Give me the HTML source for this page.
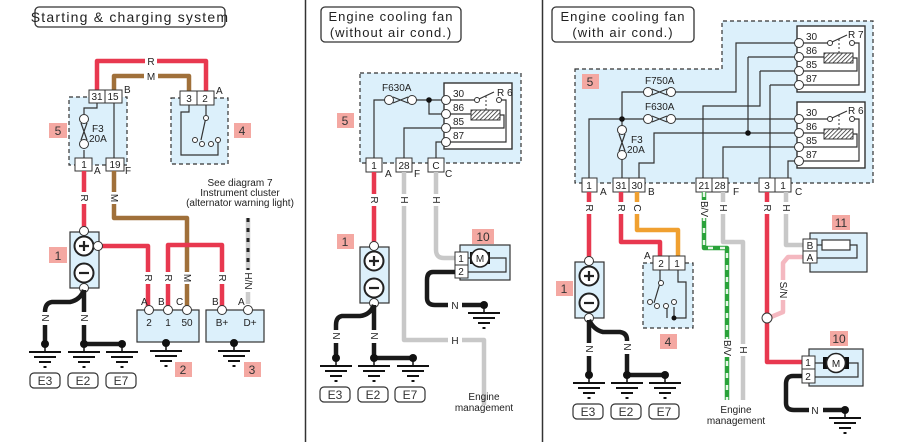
<!DOCTYPE html>
<html><head><meta charset="utf-8"><style>
html,body{margin:0;padding:0;background:#fff;}
svg{display:block;font-family:"Liberation Sans",sans-serif;}
.t{font-size:10px;fill:#222;}
.w{fill:none;stroke-linejoin:round;stroke-linecap:butt;}
.thin{fill:none;stroke:#333;stroke-width:1.2;}
.box{fill:#dcf0fb;stroke:#333;stroke-width:1.2;}
.dash{fill:#dcf0fb;stroke:#333;stroke-width:1.2;stroke-dasharray:4 3;}
.con{fill:#fff;stroke:#333;stroke-width:1;}
.pk{fill:#f4a8a2;}
.pl{font-size:12px;fill:#333;text-anchor:middle;}
.ct{font-size:10px;fill:#222;text-anchor:middle;}
</style></head><body>
<svg width="907" height="442" viewBox="0 0 907 442" xmlns="http://www.w3.org/2000/svg">
<defs>
<g id="gnd"><circle cx="0" cy="0" r="4" fill="#111"/><line x1="0" y1="0" x2="0" y2="8" stroke="#111" stroke-width="1.5"/><line x1="-16" y1="8" x2="16" y2="8" stroke="#111" stroke-width="2"/><line x1="-11" y1="13" x2="11" y2="13" stroke="#111" stroke-width="2"/><line x1="-6" y1="18" x2="6" y2="18" stroke="#111" stroke-width="2"/><line x1="-1.5" y1="23" x2="1.5" y2="23" stroke="#111" stroke-width="2"/></g>
<pattern id="hatch" width="3" height="3" patternUnits="userSpaceOnUse" patternTransform="rotate(45)"><rect width="3" height="3" fill="#fff"/><line x1="0" y1="0" x2="0" y2="3" stroke="#333" stroke-width="1.6"/></pattern>
<g id="relay">
<rect x="0" y="0" width="68" height="66" fill="#fff" stroke="#333" stroke-width="1.4"/>
<path class="thin" d="M2 17 H32 M35 16 L50 9 M55 17 H62 V59 H2 M2 31 H27 M56 32 H60 V45 H2"/>
<line x1="42" y1="13" x2="42" y2="27" stroke="#333" stroke-width="1" stroke-dasharray="2 2"/>
<rect x="27" y="27" width="29" height="10" fill="url(#hatch)" stroke="#333" stroke-width="1"/>
<circle cx="33" cy="17" r="2.5" fill="#fff" stroke="#333"/><circle cx="55" cy="17" r="2.5" fill="#fff" stroke="#333"/>
<circle cx="2" cy="17" r="4.5" fill="#fff" stroke="#333"/><circle cx="2" cy="31" r="4.5" fill="#fff" stroke="#333"/><circle cx="2" cy="45" r="4.5" fill="#fff" stroke="#333"/><circle cx="2" cy="59" r="4.5" fill="#fff" stroke="#333"/>
</g>
<g id="batt">
<rect x="-14" y="0" width="29" height="56" class="box"/>
<circle cx="0" cy="14" r="9.5" fill="#fff" stroke="#222" stroke-width="2"/><path d="M-5 14 H5 M0 9 V19" stroke="#222" stroke-width="2.2"/>
<circle cx="0" cy="41" r="9.5" fill="#fff" stroke="#222" stroke-width="2"/><path d="M-5 41 H5" stroke="#222" stroke-width="2.2"/>
<circle cx="0" cy="-1" r="4.5" fill="#fff" stroke="#333"/><circle cx="0" cy="56" r="4.5" fill="#fff" stroke="#333"/>
</g>
<g id="ebox">
<rect x="0" y="0" width="30" height="15" rx="4" fill="#fff" stroke="#333" stroke-width="1.2"/>
</g>
<g id="fuseV"><circle cx="0" cy="0" r="4.5" fill="#fff" stroke="#333"/><circle cx="0" cy="25" r="4.5" fill="#fff" stroke="#333"/><path class="thin" d="M-3 4 L3 21 M3 4 L-3 21"/></g>
<g id="fuseH"><circle cx="0" cy="0" r="4.5" fill="#fff" stroke="#333"/><circle cx="23" cy="0" r="4.5" fill="#fff" stroke="#333"/><path class="thin" d="M4 -3 L19 3 M4 3 L19 -3"/></g>
</defs>

<!-- dividers -->
<line x1="305.5" y1="0" x2="305.5" y2="442" stroke="#333" stroke-width="1.5"/>
<line x1="542.5" y1="0" x2="542.5" y2="442" stroke="#333" stroke-width="1.5"/>

<!-- ============ PANEL 1 ============ -->
<rect x="35" y="7" width="190" height="20" rx="4" fill="#fff" stroke="#333" stroke-width="1.3"/>
<text x="130" y="22" font-size="14" text-anchor="middle" letter-spacing="1.2" fill="#222">Starting &amp; charging system</text>

<path class="w" d="M97 90 V61 H206 V91" stroke="#e8384f" stroke-width="4.5"/>
<path class="w" d="M114 90 V76 H189 V91" stroke="#a0703a" stroke-width="4.5"/>
<rect x="145" y="55" width="12" height="12" fill="#fff"/><text x="151" y="65" class="ct">R</text>
<rect x="144" y="70" width="14" height="12" fill="#fff"/><text x="151" y="80" class="ct">M</text>

<rect x="69" y="97" width="58" height="68" class="dash"/>
<path class="thin" d="M97 103 V108 H84 V114 M84 150 V158 M114 103 V158"/>
<use href="#fuseV" x="84" y="119"/>
<text x="92" y="132" class="t">F3</text><text x="89" y="142" class="t">20A</text>
<rect x="89" y="90" width="16" height="13" class="con"/><text x="97" y="100" class="ct">31</text>
<rect x="105" y="90" width="17" height="13" class="con"/><text x="113" y="100" class="ct">15</text>
<rect x="75" y="158" width="17" height="13" class="con"/><text x="84" y="168" class="ct">1</text>
<rect x="106" y="158" width="18" height="13" class="con"/><text x="115" y="168" class="ct">19</text>
<text x="124" y="93" class="t">B</text><text x="94" y="174" class="t">A</text><text x="125" y="174" class="t">F</text>
<rect x="49" y="123" width="18" height="15" class="pk"/><text x="58" y="135" class="pl">5</text>

<rect x="171" y="98" width="57" height="66" class="dash"/>
<path class="thin" d="M189 105 V112 H181 V155 H218 V142 M206 105 V117 L201 140"/>
<circle cx="206" cy="118" r="2.5" fill="#fff" stroke="#333"/><circle cx="195" cy="140" r="2.5" fill="#fff" stroke="#333"/><circle cx="202" cy="144" r="2.5" fill="#fff" stroke="#333"/><circle cx="211" cy="144" r="2.5" fill="#fff" stroke="#333"/><circle cx="218" cy="140" r="2.5" fill="#fff" stroke="#333"/>
<rect x="180" y="91" width="17" height="14" class="con"/><text x="189" y="102" class="ct">3</text>
<rect x="197" y="91" width="17" height="14" class="con"/><text x="205" y="102" class="ct">2</text>
<text x="216" y="94" class="t">A</text>
<rect x="234" y="123" width="17" height="15" class="pk"/><text x="242" y="135" class="pl">4</text>

<text x="240" y="186" class="ct" font-size="10">See diagram 7</text>
<text x="240" y="196" class="ct">Instrument cluster</text>
<text x="240" y="206" class="ct">(alternator warning light)</text>

<path class="w" d="M84 171 V228" stroke="#e8384f" stroke-width="4.5"/>
<rect x="78" y="192" width="12" height="12" fill="#fff"/><text transform="translate(81,198) rotate(90)" class="ct" font-size="9">R</text>
<path class="w" d="M114 171 V218 H187 V306" stroke="#a0703a" stroke-width="4.5"/>
<rect x="108" y="192" width="12" height="12" fill="#fff"/><text transform="translate(111,198) rotate(90)" class="ct" font-size="9">M</text>
<path class="w" d="M102 246 H148 V306" stroke="#e8384f" stroke-width="4.5"/>
<path class="w" d="M168 306 V245 H222 V306" stroke="#e8384f" stroke-width="4.5"/>
<path d="M248 218 V304" stroke="#ccc" stroke-width="4.5"/><path d="M248 218 V270" stroke="#222" stroke-width="3" stroke-dasharray="4 6"/>
<g fill="#fff"><rect x="142" y="272" width="12" height="12"/><rect x="162" y="272" width="12" height="12"/><rect x="181" y="272" width="12" height="12"/><rect x="216" y="272" width="12" height="12"/><rect x="242" y="270" width="12" height="22"/></g>
<text transform="translate(145,278) rotate(90)" class="ct" font-size="9">R</text>
<text transform="translate(165,278) rotate(90)" class="ct" font-size="9">R</text>
<text transform="translate(184,278) rotate(90)" class="ct" font-size="9">M</text>
<text transform="translate(219,278) rotate(90)" class="ct" font-size="9">R</text>
<text transform="translate(245,281) rotate(90)" class="ct" font-size="9">H/N</text>

<use href="#batt" x="84" y="232"/>
<circle cx="98" cy="246" r="4.5" fill="#fff" stroke="#333"/>
<rect x="49" y="247" width="18" height="16" class="pk"/><text x="58" y="260" class="pl">1</text>

<rect x="137" y="310" width="62" height="32" class="box"/>
<circle cx="149" cy="310" r="4.5" fill="#fff" stroke="#333"/><circle cx="168" cy="310" r="4.5" fill="#fff" stroke="#333"/><circle cx="187" cy="310" r="4.5" fill="#fff" stroke="#333"/>
<text x="141" y="305" class="t">A</text><text x="158" y="305" class="t">B</text><text x="176" y="305" class="t">C</text>
<text x="149" y="326" class="ct">2</text><text x="168" y="326" class="ct">1</text><text x="187" y="326" class="ct">50</text>
<rect x="206" y="310" width="58" height="32" class="box"/>
<circle cx="222" cy="310" r="4.5" fill="#fff" stroke="#333"/><circle cx="248" cy="310" r="4.5" fill="#fff" stroke="#333"/>
<text x="212" y="305" class="t">B</text><text x="238" y="305" class="t">A</text>
<text x="222" y="326" class="ct">B+</text><text x="250" y="326" class="ct">D+</text>
<use href="#gnd" x="166" y="343"/><use href="#gnd" x="234" y="343"/>
<rect x="175" y="362" width="17" height="15" class="pk"/><text x="183" y="374" class="pl">2</text>
<rect x="244" y="362" width="17" height="15" class="pk"/><text x="252" y="374" class="pl">3</text>

<path class="w" d="M84 290 Q80 300 70 302 H52 Q45 303 45 312 V344 M84 290 V344 H122" stroke="#1a1a1a" stroke-width="4.5"/>
<rect x="40" y="312" width="10" height="13" fill="#fff"/><rect x="79" y="312" width="10" height="13" fill="#fff"/>
<text transform="translate(42,318) rotate(90)" class="ct" font-size="9">N</text><text transform="translate(81,318) rotate(90)" class="ct" font-size="9">N</text>
<use href="#gnd" x="45" y="344"/><use href="#gnd" x="84" y="344"/><use href="#gnd" x="122" y="344"/>
<use href="#ebox" x="30" y="373"/><use href="#ebox" x="68" y="373"/><use href="#ebox" x="106" y="373"/>
<text x="45" y="385" class="pl">E3</text><text x="83" y="385" class="pl">E2</text><text x="121" y="385" class="pl">E7</text>

<!-- ============ PANEL 2 ============ -->
<rect x="321" y="7" width="140" height="35" rx="4" fill="#fff" stroke="#333" stroke-width="1.3"/>
<text x="391" y="21" font-size="13" text-anchor="middle" letter-spacing="1" fill="#222">Engine cooling fan</text>
<text x="391" y="37" font-size="13" text-anchor="middle" letter-spacing="1" fill="#222">(without air cond.)</text>

<rect x="360" y="73" width="161" height="90" class="dash"/>
<use href="#relay" x="444" y="83"/>
<text x="453" y="97" class="t">30</text><text x="453" y="111" class="t">86</text><text x="453" y="125" class="t">85</text><text x="453" y="139" class="t">87</text>
<text x="497" y="96" class="t">R 6</text>
<path class="thin" d="M374 158 V100 H385 M412 100 H442 M429 100 V114 H442 M404 158 V128 H442 M436 158 V142 H442"/>
<use href="#fuseH" x="389" y="100"/><circle cx="429" cy="100" r="2.8" fill="#111"/>
<text x="382" y="91" class="t">F630A</text>
<rect x="366" y="158" width="16" height="14" class="con"/><text x="374" y="169" class="ct">1</text>
<rect x="396" y="158" width="16" height="14" class="con"/><text x="404" y="169" class="ct">28</text>
<rect x="428" y="158" width="16" height="14" class="con"/><text x="436" y="169" class="ct">C</text>
<text x="385" y="177" class="t">A</text><text x="414" y="177" class="t">F</text><text x="445" y="177" class="t">C</text>
<rect x="337" y="113" width="17" height="15" class="pk"/><text x="345" y="125" class="pl">5</text>

<path class="w" d="M374 172 V244" stroke="#e8384f" stroke-width="4.5"/>
<rect x="368" y="194" width="12" height="12" fill="#fff"/><text transform="translate(371,200) rotate(90)" class="ct" font-size="9">R</text>
<path class="w" d="M404 172 V340 H484 V405" stroke="#c8c8c8" stroke-width="4.5"/>
<path class="w" d="M436 172 V250 Q436 258 444 258 H455" stroke="#c8c8c8" stroke-width="4.5"/>
<rect x="398" y="194" width="12" height="12" fill="#fff"/><text transform="translate(401,200) rotate(90)" class="ct" font-size="9">H</text>
<rect x="430" y="194" width="12" height="12" fill="#fff"/><text transform="translate(433,200) rotate(90)" class="ct" font-size="9">H</text>
<rect x="448" y="334" width="14" height="12" fill="#fff"/><text x="455" y="344" class="ct">H</text>
<text x="484" y="400" class="ct">Engine</text><text x="484" y="411" class="ct">management</text>

<use href="#batt" x="374" y="247"/>
<rect x="337" y="234" width="17" height="15" class="pk"/><text x="345" y="246" class="pl">1</text>

<rect x="460" y="245" width="50" height="35" class="box"/>
<path class="thin" d="M468 258 H506 V272 H468"/>
<rect x="470" y="252" width="6" height="12" fill="#111"/><rect x="484" y="252" width="6" height="12" fill="#111"/>
<circle cx="480" cy="258" r="9" fill="#fff" stroke="#222" stroke-width="1.6"/><text x="480" y="262" class="ct" font-size="9">M</text>
<rect x="455" y="252" width="13" height="13" class="con"/><text x="461" y="262" class="ct">1</text>
<rect x="455" y="265" width="13" height="13" class="con"/><text x="461" y="275" class="ct">2</text>
<rect x="472" y="229" width="22" height="15" class="pk"/><text x="483" y="241" class="pl">10</text>
<path class="w" d="M455 272 H433 Q427 272 427 280 V298 Q427 305 435 305 H484" stroke="#1a1a1a" stroke-width="4.5"/>
<rect x="448" y="299" width="14" height="12" fill="#fff"/><text x="455" y="309" class="ct">N</text>
<use href="#gnd" x="484" y="305"/>

<path class="w" d="M374 305 Q370 315 360 316 H342 Q336 317 336 325 V358 M374 305 V358 H413" stroke="#1a1a1a" stroke-width="4.5"/>
<rect x="331" y="330" width="10" height="13" fill="#fff"/><rect x="369" y="330" width="10" height="13" fill="#fff"/>
<text transform="translate(333,336) rotate(90)" class="ct" font-size="9">N</text><text transform="translate(371,336) rotate(90)" class="ct" font-size="9">N</text>
<use href="#gnd" x="336" y="358"/><use href="#gnd" x="374" y="358"/><use href="#gnd" x="413" y="358"/>
<use href="#ebox" x="320" y="387"/><use href="#ebox" x="358" y="387"/><use href="#ebox" x="395" y="387"/>
<text x="335" y="399" class="pl">E3</text><text x="373" y="399" class="pl">E2</text><text x="410" y="399" class="pl">E7</text>

<!-- ============ PANEL 3 ============ -->
<rect x="552" y="7" width="142" height="35" rx="4" fill="#fff" stroke="#333" stroke-width="1.3"/>
<text x="623" y="21" font-size="13" text-anchor="middle" letter-spacing="1" fill="#222">Engine cooling fan</text>
<text x="623" y="37" font-size="13" text-anchor="middle" letter-spacing="1" fill="#222">(with air cond.)</text>

<path d="M575 69 H722 V21 H873 V183 H575 Z" class="dash"/>
<rect x="582" y="74" width="17" height="15" class="pk"/><text x="590" y="86" class="pl">5</text>
<use href="#relay" x="797" y="26"/><use href="#relay" x="797" y="102"/>
<g class="t"><text x="806" y="40">30</text><text x="806" y="54">86</text><text x="806" y="68">85</text><text x="806" y="82">87</text>
<text x="806" y="116">30</text><text x="806" y="130">86</text><text x="806" y="144">85</text><text x="806" y="158">87</text>
<text x="848" y="38">R 7</text><text x="848" y="114">R 6</text></g>
<path class="thin" d="M589 178 V119 H645 M675 119 H795 M622 119 V92 H645 M675 92 H736 V43 H795 M622 119 V126 M622 155 V178 M748 57 H795 M748 57 V133 M639 178 V163 H654 V133 H795 M760 71 H795 M760 71 V106 H703 V178 M770 85 H795 M770 85 V178 M723 178 V147 H795 M788 178 V161 H795"/>
<use href="#fuseH" x="648" y="92"/><use href="#fuseH" x="648" y="119"/>
<circle cx="622" cy="119" r="2.8" fill="#111"/><circle cx="748" cy="133" r="2.8" fill="#111"/>
<use href="#fuseV" x="622" y="130"/>
<text x="645" y="84" class="t">F750A</text><text x="645" y="110" class="t">F630A</text>
<text x="631" y="143" class="t">F3</text><text x="627" y="153" class="t">20A</text>
<rect x="582" y="178" width="15" height="14" class="con"/><text x="589" y="189" class="ct">1</text>
<rect x="613" y="178" width="16" height="14" class="con"/><text x="621" y="189" class="ct">31</text>
<rect x="629" y="178" width="16" height="14" class="con"/><text x="637" y="189" class="ct">30</text>
<rect x="696" y="178" width="16" height="14" class="con"/><text x="704" y="189" class="ct">21</text>
<rect x="712" y="178" width="16" height="14" class="con"/><text x="720" y="189" class="ct">28</text>
<rect x="759" y="178" width="16" height="14" class="con"/><text x="767" y="189" class="ct">3</text>
<rect x="775" y="178" width="16" height="14" class="con"/><text x="783" y="189" class="ct">1</text>
<text x="600" y="195" class="t">A</text><text x="648" y="195" class="t">B</text><text x="733" y="195" class="t">F</text><text x="795" y="195" class="t">C</text>

<path class="w" d="M589 192 V259" stroke="#e8384f" stroke-width="4.5"/>
<path class="w" d="M621 192 V242 H660 V256" stroke="#e8384f" stroke-width="4.5"/>
<path class="w" d="M637 192 V230 H678 V256" stroke="#f0a030" stroke-width="4.5"/>
<path class="w" d="M704 192 V248 H727 V400" stroke="#2aa33a" stroke-width="4.5"/>
<path class="w" d="M704 192 V248 H727 V400" stroke="#e8f7e8" stroke-width="2.5" stroke-dasharray="5 7"/>
<path class="w" d="M723 192 V242 H743 V400" stroke="#c8c8c8" stroke-width="4.5"/>
<path class="w" d="M767 192 V362 H802" stroke="#e8384f" stroke-width="4.5"/>
<path class="w" d="M786 192 V245 H803" stroke="#c8c8c8" stroke-width="4.5"/>
<path class="w" d="M771 317 L783 312 V263 L788 257 H803" stroke="#f4b8c0" stroke-width="4.5"/>
<circle cx="767" cy="318" r="5" fill="#fff" stroke="#333"/>
<g fill="#fff"><rect x="583" y="202" width="12" height="12"/><rect x="615" y="202" width="12" height="12"/><rect x="631" y="202" width="12" height="12"/><rect x="698" y="200" width="12" height="18"/><rect x="717" y="202" width="12" height="12"/><rect x="761" y="202" width="12" height="12"/><rect x="780" y="202" width="12" height="12"/><rect x="721" y="339" width="12" height="18"/><rect x="737" y="344" width="12" height="12"/><rect x="777" y="280" width="12" height="20"/></g>
<text transform="translate(586,208) rotate(90)" class="ct" font-size="9">R</text>
<text transform="translate(618,208) rotate(90)" class="ct" font-size="9">R</text>
<text transform="translate(634,208) rotate(90)" class="ct" font-size="9">C</text>
<text transform="translate(701,209) rotate(90)" class="ct" font-size="9">B/V</text>
<text transform="translate(720,208) rotate(90)" class="ct" font-size="9">H</text>
<text transform="translate(764,208) rotate(90)" class="ct" font-size="9">R</text>
<text transform="translate(783,208) rotate(90)" class="ct" font-size="9">H</text>
<text transform="translate(724,348) rotate(90)" class="ct" font-size="9">B/V</text>
<text transform="translate(740,350) rotate(90)" class="ct" font-size="9">H</text>
<text transform="translate(780,290) rotate(90)" class="ct" font-size="9">S/N</text>
<text x="736" y="413" class="ct">Engine</text><text x="736" y="424" class="ct">management</text>

<rect x="643" y="263" width="50" height="65" class="dash"/>
<path class="thin" d="M678 270 V282 H686 V318 H674 V307 M660 270 V283 L654 303 M667 318 V307"/>
<circle cx="661" cy="283" r="2.5" fill="#fff" stroke="#333"/><circle cx="650" cy="302" r="2.5" fill="#fff" stroke="#333"/><circle cx="657" cy="306" r="2.5" fill="#fff" stroke="#333"/><circle cx="666" cy="306" r="2.5" fill="#fff" stroke="#333"/><circle cx="674" cy="302" r="2.5" fill="#fff" stroke="#333"/><circle cx="674" cy="318" r="2.5" fill="#111"/>
<rect x="653" y="256" width="16" height="14" class="con"/><text x="661" y="267" class="ct">2</text>
<rect x="669" y="256" width="16" height="14" class="con"/><text x="677" y="267" class="ct">1</text>
<text x="644" y="259" class="t">A</text>
<rect x="660" y="334" width="17" height="15" class="pk"/><text x="668" y="346" class="pl">4</text>

<use href="#batt" x="589" y="262"/>
<rect x="556" y="281" width="17" height="15" class="pk"/><text x="564" y="293" class="pl">1</text>
<path class="w" d="M589 320 V375 M589 320 Q594 330 603 332 H620 Q627 333 627 340 V375 H665" stroke="#1a1a1a" stroke-width="4.5"/>
<rect x="584" y="343" width="10" height="13" fill="#fff"/><rect x="622" y="341" width="10" height="13" fill="#fff"/>
<text transform="translate(586,349) rotate(90)" class="ct" font-size="9">N</text><text transform="translate(624,347) rotate(90)" class="ct" font-size="9">N</text>
<use href="#gnd" x="589" y="375"/><use href="#gnd" x="627" y="375"/><use href="#gnd" x="665" y="375"/>
<use href="#ebox" x="573" y="404"/><use href="#ebox" x="611" y="404"/><use href="#ebox" x="649" y="404"/>
<text x="588" y="416" class="pl">E3</text><text x="626" y="416" class="pl">E2</text><text x="664" y="416" class="pl">E7</text>

<rect x="810" y="233" width="57" height="39" class="box"/>
<path class="thin" d="M817 245 H822 M850 245 H857 V258 H817"/>
<rect x="822" y="240" width="28" height="10" fill="#fff" stroke="#333" stroke-width="1.2"/>
<rect x="803" y="239" width="14" height="12" class="con"/><text x="810" y="249" class="ct">B</text>
<rect x="803" y="251" width="14" height="12" class="con"/><text x="810" y="261" class="ct">A</text>
<rect x="832" y="215" width="18" height="15" class="pk"/><text x="841" y="227" class="pl">11</text>

<rect x="809" y="349" width="54" height="37" class="box"/>
<path class="thin" d="M815 363 H858 V377 H815"/>
<rect x="823" y="357" width="6" height="12" fill="#111"/><rect x="843" y="357" width="6" height="12" fill="#111"/>
<circle cx="836" cy="363" r="9.5" fill="#fff" stroke="#222" stroke-width="1.6"/><text x="836" y="367" class="ct" font-size="9">M</text>
<rect x="802" y="356" width="13" height="13" class="con"/><text x="808" y="366" class="ct">1</text>
<rect x="802" y="369" width="13" height="14" class="con"/><text x="808" y="380" class="ct">2</text>
<rect x="830" y="331" width="18" height="15" class="pk"/><text x="839" y="343" class="pl">10</text>
<path class="w" d="M802 376 H793 Q786 376 786 384 V403 Q786 410 794 410 H845" stroke="#1a1a1a" stroke-width="4.5"/>
<rect x="809" y="404" width="14" height="12" fill="#fff"/><text x="815" y="414" class="ct">N</text>
<use href="#gnd" x="845" y="410"/>
</svg>
</body></html>
